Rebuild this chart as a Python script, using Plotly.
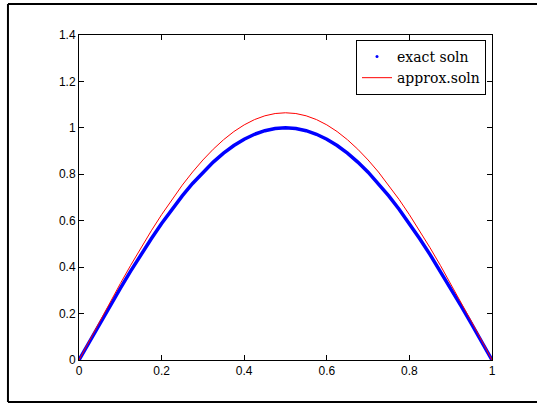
import plotly.graph_objects as go

x_vals = [0, 0.025, 0.05, 0.075, 0.1, 0.125, 0.15, 0.175, 0.2, 0.225, 0.25, 0.275, 0.3, 0.325, 0.35,
          0.375, 0.4, 0.425, 0.45, 0.475, 0.5, 0.525, 0.55, 0.575, 0.6, 0.625, 0.65, 0.675, 0.7,
          0.725, 0.75, 0.775, 0.8, 0.825, 0.85, 0.875, 0.9, 0.925, 0.95, 0.975, 1.0]

exact_half = [0, 0.0785, 0.1564, 0.2334, 0.3090, 0.3827, 0.4540, 0.5225, 0.5878, 0.6494, 0.7071,
              0.7604, 0.8090, 0.8526, 0.8910, 0.9239, 0.9511, 0.9724, 0.9877, 0.9969]
exact_soln = exact_half + [1.0] + exact_half[::-1]

approx_half = [0, 0.0836, 0.1666, 0.2486, 0.3291, 0.4076, 0.4835, 0.5565, 0.6260, 0.6916, 0.7531,
               0.8098, 0.8616, 0.9080, 0.9489, 0.9840, 1.0129, 1.0356, 1.0519, 1.0617]
approx_soln = approx_half + [1.065] + approx_half[::-1]

x_ticks = [0, 0.2, 0.4, 0.6, 0.8, 1]
y_ticks = [0, 0.2, 0.4, 0.6, 0.8, 1, 1.2, 1.4]

fig = go.Figure()
fig.add_trace(go.Scatter(x=x_vals, y=exact_soln, mode="lines",
                         line=dict(color="#0000ff", width=3.5), showlegend=False))
fig.add_trace(go.Scatter(x=[None], y=[None], mode="markers", name="exact soln",
                         marker=dict(color="#0000ff", size=3)))
fig.add_trace(go.Scatter(x=x_vals, y=approx_soln, mode="lines", name="approx.soln",
                         line=dict(color="#ff0000", width=1)))

axis_common = dict(showgrid=False, zeroline=False, showline=True, linecolor="black", linewidth=1,
                   mirror="ticks", ticks="inside", ticklen=5, tickcolor="black",
                   tickfont=dict(family="Liberation Sans, Arial, sans-serif", size=12, color="black"))

fig.update_layout(
    width=537, height=404,
    margin=dict(l=79, r=45, t=35, b=44),
    paper_bgcolor="white", plot_bgcolor="white",
    xaxis=dict(range=[0, 1], tickvals=x_ticks, **axis_common),
    yaxis=dict(range=[0, 1.4], tickvals=y_ticks, **axis_common),
    legend=dict(x=0.9855, y=0.985, xanchor="right", yanchor="top",
                bgcolor="white", bordercolor="black", borderwidth=1,
                font=dict(family="DejaVu Serif, serif", size=14, color="black"),
                tracegroupgap=0),
    shapes=[
        dict(type="line", xref="paper", yref="paper", x0=-0.172, x1=1.2, y0=1.0954, y1=1.0954,
             line=dict(color="black", width=2)),
        dict(type="line", xref="paper", yref="paper", x0=-0.172, x1=1.2, y0=-0.129, y1=-0.129,
             line=dict(color="black", width=2)),
        dict(type="line", xref="paper", yref="paper", x0=-0.172, x1=-0.172, y0=-0.129, y1=1.0954,
             line=dict(color="black", width=2)),
    ],
)

fig.write_html("out.html", config={"displayModeBar": False},
               post_script="document.body.style.margin='0';")
